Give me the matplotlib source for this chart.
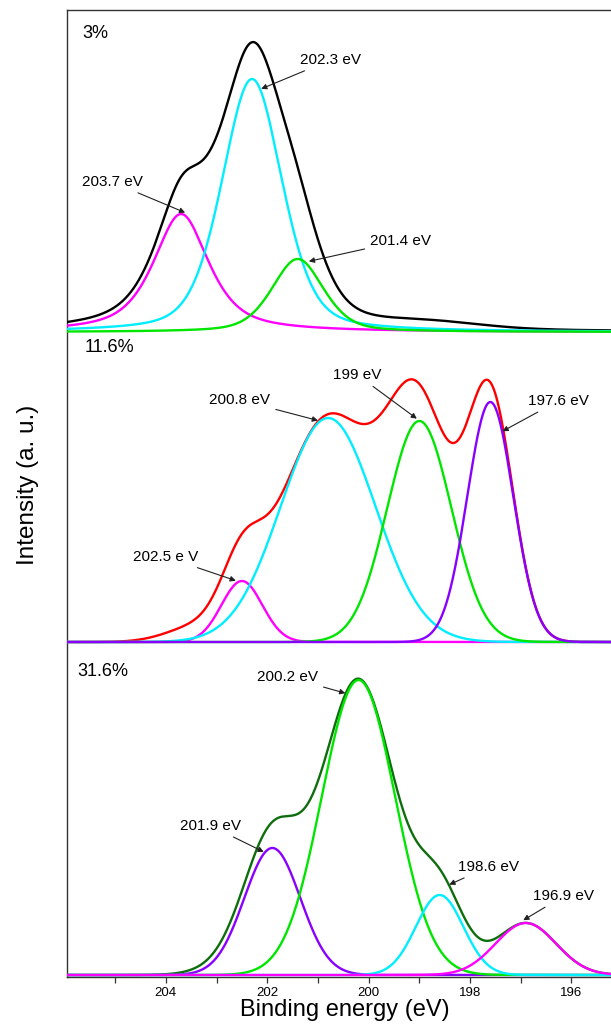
import numpy as np
import matplotlib
matplotlib.use("Agg")
import matplotlib.pyplot as plt
from matplotlib.ticker import MultipleLocator

plt.rcParams['font.family'] = ['Liberation Sans', 'DejaVu Sans']

# ---------------- data: fitted N 1s components for each sample ----------------
energy_range = (205.95, 195.22)

# 3 % sample
s1_label = "3%"
s1_centers = [203.7, 202.3, 201.4]
s1_heights = [118, 253, 73]
s1_fwhm = [1.3, 1.4, 1.2]
s1_lorentz = [0.7, 0.35, 0.4]
s1_bg_centers = [203.2, 198.8]
s1_bg_heights = [12, 6]
s1_bg_fwhm = [1.2, 2.4]

# 11.6 % sample
s2_label = "11.6%"
s2_centers = [202.5, 200.8, 199.0, 197.6]
s2_heights = [61, 224, 221, 240]
s2_fwhm = [0.95, 2.2, 1.49, 1.07]
s2_lorentz = [0.0, 0.0, 0.0, 0.0]
s2_bg_centers = [203.4]
s2_bg_heights = [14]
s2_bg_fwhm = [1.4]

# 31.6 % sample
s3_label = "31.6%"
s3_centers = [201.9, 200.2, 198.6, 196.9]
s3_heights = [127, 295, 80, 52]
s3_fwhm = [1.3, 1.7, 1.1, 1.4]
s3_lorentz = [0.0, 0.0, 0.0, 0.0]
s3_bg_centers = [202.5]
s3_bg_heights = [12]
s3_bg_fwhm = [1.5]

# ---------------- styles / layout ----------------
s1_colors = ['#ff00ff', '#00eeff', '#00e600']
s2_colors = ['#ff00ff', '#00eeff', '#00e600', '#8a00ff']
s3_colors = ['#8a00ff', '#00e600', '#00eeff', '#ff00ff']
envelope_colors = ['#000000', '#ff0000', '#0e6e0e']
baselines = [645, 335, 2]
label_pos = [(205.65, 944), (205.6, 629), (205.74, 305)]

# annotations: text, text position (energy, y), tip energy, curve used for tip, extra lift
annotations = [
    [("202.3 eV", (200.75, 917), 202.12, 1, 3),
     ("203.7 eV", (205.06, 795), 203.62, 0, 3),
     ("201.4 eV", (199.37, 736), 201.18, 2, 5)],
    [("200.8 eV", (202.54, 577), 201.0, 'env', 1),
     ("199 eV", (200.22, 602), 199.05, 2, 3),
     ("197.6 eV", (196.26, 576), 197.36, 3, 2),
     ("202.5 e V", (204.0, 420), 202.62, 0, 3)],
    [("200.2 eV", (201.6, 300), 200.46, 'env', 1),
     ("201.9 eV", (203.11, 151), 202.07, 0, 2),
     ("198.6 eV", (197.64, 110), 198.41, 'env', 1),
     ("196.9 eV", (196.15, 81), 196.95, 3, 3)],
]


def pseudo_voigt(e, center, height, fwhm, eta):
    hw = fwhm / 2.0
    x = (e - center) / hw
    gauss = np.exp(-np.log(2) * x ** 2)
    lorentz = 1.0 / (1.0 + x ** 2)
    return height * (eta * lorentz + (1 - eta) * gauss)


energy = np.linspace(194.8, 206.2, 2000)

samples = [
    (s1_centers, s1_heights, s1_fwhm, s1_lorentz, s1_bg_centers, s1_bg_heights, s1_bg_fwhm, s1_colors, s1_label),
    (s2_centers, s2_heights, s2_fwhm, s2_lorentz, s2_bg_centers, s2_bg_heights, s2_bg_fwhm, s2_colors, s2_label),
    (s3_centers, s3_heights, s3_fwhm, s3_lorentz, s3_bg_centers, s3_bg_heights, s3_bg_fwhm, s3_colors, s3_label),
]

fig = plt.figure(figsize=(6.11, 10.34), dpi=100)
ax = fig.add_axes([67 / 611, 57 / 1034, 544 / 611, 967 / 1034])

for i, (cen, hei, fw, eta, bgc, bgh, bgw, cols, lab) in enumerate(samples):
    off = baselines[i]
    comps = [pseudo_voigt(energy, c, h, w, t) for c, h, w, t in zip(cen, hei, fw, eta)]
    env = np.sum(comps, axis=0)
    for c, h, w in zip(bgc, bgh, bgw):
        env = env + pseudo_voigt(energy, c, h, w, 0.0)
    ax.plot(energy, env + off, color=envelope_colors[i], lw=1.7, zorder=3)
    for comp, col in zip(comps, cols):
        ax.plot(energy, comp + off, color=col, lw=1.7, zorder=4)
    ax.text(label_pos[i][0], label_pos[i][1], lab, fontsize=13, ha='left', va='center')

    for txt, (tx, ty), etip, which, lift in annotations[i]:
        curve = env if which == 'env' else comps[which]
        ytip = np.interp(etip, energy, curve) + off + lift
        ax.annotate(txt, xy=(etip, ytip), xytext=(tx, ty), fontsize=11,
                    ha='center', va='center', zorder=6,
                    arrowprops=dict(arrowstyle='-|>', color='#202020', lw=0.8,
                                    mutation_scale=8, shrinkA=2, shrinkB=0))

ax.set_xlim(*energy_range)
ax.set_ylim(0, 967)
ax.xaxis.set_major_locator(MultipleLocator(2))
ax.xaxis.set_minor_locator(MultipleLocator(1))
ax.tick_params(axis='x', which='both', direction='out', length=4, width=0.9,
               labelsize=9.5, pad=3.5, color='#333333')
ax.set_yticks([])
ax.spines['right'].set_visible(False)
for s in ['left', 'top', 'bottom']:
    ax.spines[s].set_color('#333333')
    ax.spines[s].set_linewidth(1.0)

fig.text(345 / 611, 1 - 1010 / 1034, "Binding energy (eV)", fontsize=17,
         ha='center', va='center')
fig.text(28 / 611, 1 - 485 / 1034, "Intensity (a. u.)", fontsize=17.5,
         ha='center', va='center', rotation=90)

fig.savefig("out.png", dpi=100)
